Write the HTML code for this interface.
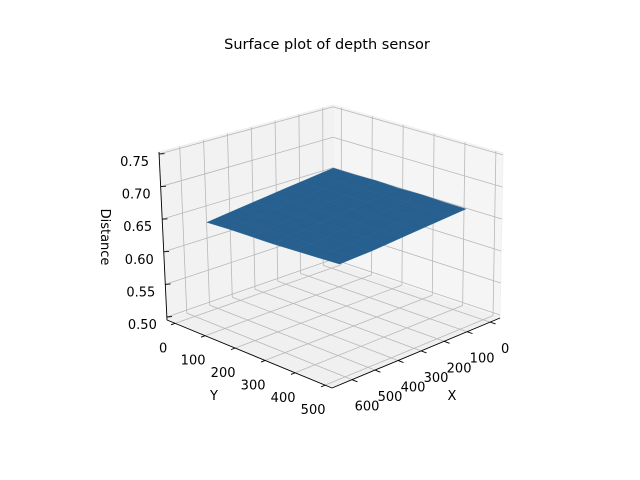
<!DOCTYPE html>
<html><head><meta charset="utf-8"><style>
html,body{margin:0;padding:0;background:#fff;}
svg{display:block;font-family:"DejaVu Sans","Liberation Sans",sans-serif;}
</style></head><body>
<svg id="chart" width="640" height="480" viewBox="0 0 640 480" xmlns="http://www.w3.org/2000/svg">
<text x="327" y="49" font-size="14.5" text-anchor="middle" fill="#000">Surface plot of depth sensor</text>
<g id="panes"></g><g id="grid"></g><g id="surf"></g><g id="axes"></g>
<text x="452" y="400" font-size="13" text-anchor="middle">X</text>
<text x="214" y="400" font-size="13" text-anchor="middle">Y</text>
<text x="0" y="0" font-size="13" text-anchor="middle" transform="translate(101,237) rotate(90)">Distance</text>
</svg>
<script>
const xTicks=[0,100,200,300,400,500,600];
const yTicks=[0,100,200,300,400,500];
const zTicks=[0.50,0.55,0.60,0.65,0.70,0.75];
const zTickLabels=["0.50","0.55","0.60","0.65","0.70","0.75"];
const surfX=[50,117.5,185,252.5,320,387.5,455,522.5,590];
const surfY=[45,117,188,260,332,404,476];
const surfZ=[
[0.671,0.668,0.665,0.662,0.659,0.656,0.653,0.650,0.647],
[0.671,0.668,0.665,0.662,0.660,0.657,0.654,0.651,0.649],
[0.672,0.668,0.666,0.663,0.660,0.658,0.655,0.652,0.650],
[0.671,0.669,0.666,0.663,0.661,0.659,0.656,0.654,0.651],
[0.672,0.669,0.666,0.664,0.662,0.660,0.657,0.655,0.653],
[0.671,0.669,0.667,0.664,0.662,0.660,0.658,0.656,0.655],
[0.671,0.669,0.667,0.665,0.663,0.661,0.659,0.658,0.657]];
const xlo=-43,xhi=687,ylo=-27,yhi=523,zlo=0.4954,zhi=0.753;
const C={"000":[333,262],"100":[167,320],"010":[500,318],"110":[332,388],
"001":[333,105],"101":[159,152],"011":[503,153],"111":[331,212]};
function P(X,Y,Z){const u=(X-xlo)/(xhi-xlo),v=(Y-ylo)/(yhi-ylo),w=(Z-zlo)/(zhi-zlo);let x=0,y=0;
for(const a of [0,1])for(const b of [0,1])for(const c of [0,1]){const wt=(a?u:1-u)*(b?v:1-v)*(c?w:1-w);const p=C[""+a+b+c];x+=wt*p[0];y+=wt*p[1];}return [x,y];}
const NS="http://www.w3.org/2000/svg";
function mk(tag,attrs,parent){const e=document.createElementNS(NS,tag);for(const k in attrs)e.setAttribute(k,attrs[k]);parent.appendChild(e);return e;}
function pts(a){return a.map(p=>p[0].toFixed(1)+","+p[1].toFixed(1)).join(" ");}
const panes=document.getElementById("panes"),grid=document.getElementById("grid"),surf=document.getElementById("surf"),axes=document.getElementById("axes");
let e;
e=mk("polygon",{points:pts([P(xlo,ylo,zlo),P(xhi,ylo,zlo),P(xhi,ylo,zhi),P(xlo,ylo,zhi)]),fill:"#f2f2f2",stroke:"#f0f0f0"},panes);

e=mk("polygon",{points:pts([P(xlo,ylo,zlo),P(xlo,yhi,zlo),P(xlo,yhi,zhi),P(xlo,ylo,zhi)]),fill:"#f5f5f5",stroke:"#f0f0f0"},panes);

e=mk("polygon",{points:pts([P(xlo,ylo,zlo),P(xhi,ylo,zlo),P(xhi,yhi,zlo),P(xlo,yhi,zlo)]),fill:"#f0f0f0",stroke:"#f0f0f0"},panes);

const gs={stroke:"#b8b8b8","stroke-width":"0.8",fill:"none"};
function line(a,b,attrs,parent){return mk("line",Object.assign({x1:a[0],y1:a[1],x2:b[0],y2:b[1]},attrs),parent);}
xTicks.forEach(t=>{
 e=line(P(t,ylo,zlo),P(t,ylo,zhi),gs,grid);
 e=line(P(t,ylo,zlo),P(t,yhi,zlo),gs,grid);});
yTicks.forEach(t=>{
 e=line(P(xlo,t,zlo),P(xlo,t,zhi),gs,grid);
 e=line(P(xlo,t,zlo),P(xhi,t,zlo),gs,grid);});
zTicks.forEach(t=>{
 e=line(P(xlo,ylo,t),P(xhi,ylo,t),gs,grid);
 e=line(P(xlo,ylo,t),P(xlo,yhi,t),gs,grid);});
const cells=[];
for(let j=0;j<surfY.length-1;j++)for(let i=0;i<surfX.length-1;i++)cells.push([i,j]);
cells.sort((a,b)=>(a[0]+a[1])-(b[0]+b[1]));
cells.forEach(([i,j])=>{
 const q=[P(surfX[i],surfY[j],surfZ[j][i]),P(surfX[i+1],surfY[j],surfZ[j][i+1]),P(surfX[i+1],surfY[j+1],surfZ[j+1][i+1]),P(surfX[i],surfY[j+1],surfZ[j+1][i])];
 e=mk("polygon",{points:pts(q),fill:"#275f8e",stroke:"#2b6696","stroke-width":"0.6","stroke-linejoin":"round"},surf);
 });
const as={stroke:"#000","stroke-width":"0.9"};
e=line(P(xlo,yhi,zlo),P(xhi,yhi,zlo),as,axes);
e=line(P(xhi,ylo,zlo),P(xhi,yhi,zlo),as,axes);
e=line(P(xhi,ylo,zlo),P(xhi,ylo,zhi),as,axes);
xTicks.forEach(t=>{const a=P(t,yhi,zlo),b=P(t,yhi+18,zlo);
 e=line(a,b,as,axes);
 e=mk("text",{x:a[0]+15,y:a[1]+31,"font-size":"13","text-anchor":"middle"},axes);e.textContent=String(t);
 });
yTicks.forEach(t=>{const a=P(xhi,t,zlo),b=P(xhi+18,t,zlo);
 e=line(a,b,as,axes);
 e=mk("text",{x:a[0]-12,y:a[1]+29,"font-size":"13","text-anchor":"middle"},axes);e.textContent=String(t);
 });
zTicks.forEach((t,k)=>{const a=P(xhi,ylo,t),b=P(xhi+25,ylo-10,t);
 e=line(a,[a[0]+(a[0]-b[0])*0.6,a[1]+(a[1]-b[1])*0.6],as,axes);
 e=mk("text",{x:a[0]-10,y:a[1]+12,"font-size":"13","text-anchor":"end"},axes);e.textContent=zTickLabels[k];
 });
</script>
</body></html>
